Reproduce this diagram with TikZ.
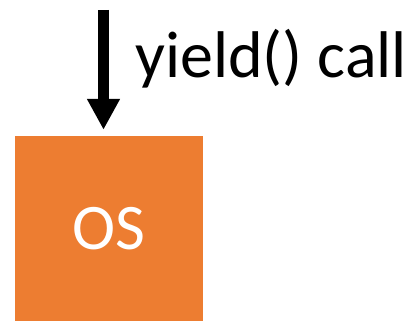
\documentclass[tikz,border=0pt]{standalone}
\usepackage{fontspec}
\setmainfont{Carlito}
\definecolor{ORANGE}{HTML}{ED7D31}
\usetikzlibrary{arrows.meta,positioning,calc}
\begin{document}
\begin{tikzpicture}
[x=1pt, y=1pt, block/.style ={rectangle, fill=ORANGE, draw=none, minimum width=188pt,
minimum height=185pt, inner sep=0pt, text=white, font=\fontsize{65}{70}\selectfont},
dedge/.style={line width=10.7pt, black, -{Triangle[length=31pt,width=31pt]}, shorten >=6pt}]
\useasboundingbox (0,0) rectangle (420,321);
\node[block] (OS) at (109,92.5) {OS};
\coordinate (top) at (103.5,311);
\draw[dedge] (top) -- (top |- OS.north);
\node[anchor=base west, inner sep=0pt, font=\fontsize{66}{70}\selectfont] (call) at (135,243) {yield() call};
\end{tikzpicture}
\end{document}
